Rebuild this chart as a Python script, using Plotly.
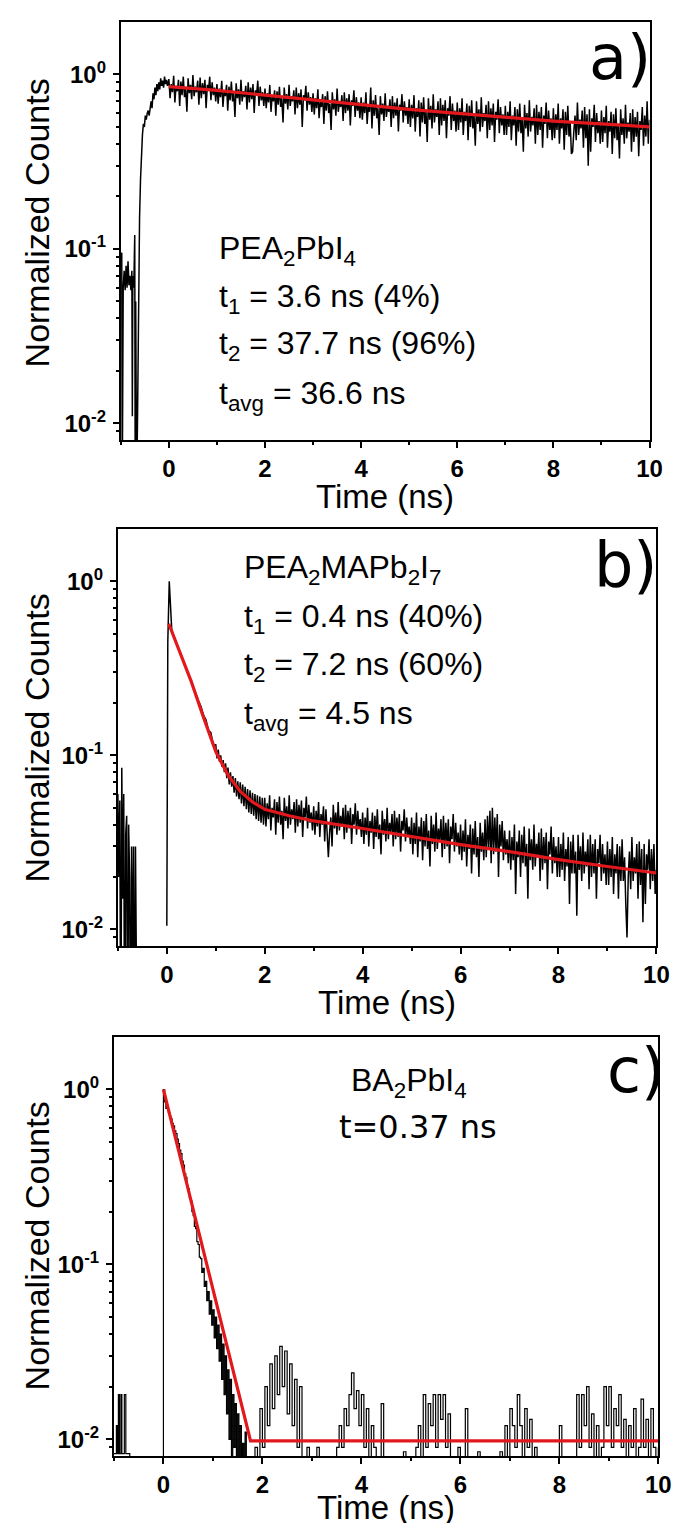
import plotly.graph_objects as go

W, H = 681, 1523

# ---------------- Panel a: PEA2PbI4 ----------------
a_rise_t = [-1.00, -0.98, -0.97, -0.95, -0.93, -0.91, -0.89, -0.87, -0.85, -0.83,
            -0.81, -0.79, -0.77, -0.76, -0.75, -0.73, -0.71, -0.70, -0.69, -0.67,
            -0.65, -0.63, -0.61, -0.59, -0.57, -0.55, -0.53, -0.51, -0.49, -0.47,
            -0.45, -0.43, -0.41, -0.39, -0.37, -0.35, -0.33, -0.31, -0.29, -0.27,
            -0.25, -0.23, -0.21, -0.19, -0.17, -0.15, -0.13, -0.11, -0.09, -0.07,
            -0.05, -0.03]
a_rise_counts = [0.09, 0.095, 0.004, 0.06, 0.075, 0.058, 0.08, 0.06, 0.085, 0.062,
                 0.07, 0.058, 0.075, 0.011, 0.07, 0.06, 0.12, 0.004, 0.05, 0.004,
                 0.012, 0.05, 0.15, 0.25, 0.38, 0.45, 0.52, 0.5, 0.58, 0.55,
                 0.6, 0.62, 0.58, 0.66, 0.7, 0.64, 0.78, 0.72, 0.84, 0.76,
                 0.88, 0.8, 0.9, 0.82, 0.95, 0.86, 0.92, 0.84, 0.97, 0.88,
                 0.93, 0.86]
a_decay_start = 0.0
a_decay_step = 0.025
a_decay_counts = [
    0.94, 0.73, 0.88, 0.79, 0.98, 0.69, 0.86, 0.80, 0.93, 0.66, 0.91, 0.76, 0.97, 0.74, 0.83, 0.61, 0.95, 0.78, 0.87, 0.72,
    0.99, 0.75, 0.85, 0.79, 0.92, 0.67, 0.96, 0.73, 0.89, 0.77, 0.93, 0.64, 0.87, 0.81, 0.97, 0.71, 0.90, 0.76, 0.84, 0.70,
    0.88, 0.68, 0.83, 0.74, 0.92, 0.65, 0.81, 0.75, 0.87, 0.62, 0.85, 0.71, 0.91, 0.70, 0.78, 0.57, 0.89, 0.73, 0.82, 0.67,
    0.93, 0.70, 0.80, 0.74, 0.86, 0.63, 0.90, 0.69, 0.84, 0.72, 0.88, 0.60, 0.81, 0.76, 0.92, 0.66, 0.85, 0.71, 0.79, 0.66,
    0.83, 0.64, 0.78, 0.69, 0.87, 0.61, 0.76, 0.70, 0.81, 0.58, 0.80, 0.67, 0.85, 0.65, 0.73, 0.53, 0.84, 0.68, 0.77, 0.63,
    0.87, 0.66, 0.75, 0.70, 0.81, 0.59, 0.84, 0.64, 0.78, 0.67, 0.82, 0.50, 0.76, 0.71, 0.86, 0.62, 0.79, 0.67, 0.74, 0.61,
    0.78, 0.59, 0.73, 0.64, 0.82, 0.56, 0.71, 0.65, 0.77, 0.52, 0.75, 0.62, 0.80, 0.60, 0.68, 0.48, 0.79, 0.63, 0.72, 0.58,
    0.83, 0.61, 0.70, 0.65, 0.76, 0.54, 0.79, 0.60, 0.73, 0.62, 0.77, 0.51, 0.71, 0.66, 0.81, 0.57, 0.74, 0.62, 0.69, 0.56,
    0.74, 0.55, 0.69, 0.60, 0.79, 0.52, 0.67, 0.61, 0.84, 0.49, 0.71, 0.58, 0.76, 0.56, 0.64, 0.45, 0.75, 0.59, 0.68, 0.54,
    0.78, 0.57, 0.66, 0.61, 0.72, 0.50, 0.75, 0.56, 0.69, 0.58, 0.73, 0.47, 0.67, 0.62, 0.77, 0.53, 0.70, 0.58, 0.65, 0.52,
    0.72, 0.50, 0.67, 0.56, 0.76, 0.47, 0.64, 0.57, 0.71, 0.44, 0.69, 0.53, 0.74, 0.52, 0.61, 0.41, 0.73, 0.55, 0.66, 0.49,
    0.77, 0.53, 0.63, 0.57, 0.70, 0.45, 0.73, 0.51, 0.67, 0.54, 0.71, 0.43, 0.64, 0.58, 0.75, 0.48, 0.68, 0.54, 0.62, 0.47,
    0.69, 0.48, 0.64, 0.53, 0.73, 0.45, 0.61, 0.54, 0.68, 0.42, 0.66, 0.50, 0.71, 0.49, 0.58, 0.39, 0.70, 0.52, 0.63, 0.47,
    0.74, 0.50, 0.60, 0.54, 0.67, 0.43, 0.70, 0.48, 0.64, 0.51, 0.68, 0.41, 0.61, 0.55, 0.72, 0.46, 0.65, 0.51, 0.59, 0.45,
    0.66, 0.45, 0.61, 0.50, 0.70, 0.42, 0.58, 0.51, 0.65, 0.39, 0.63, 0.47, 0.68, 0.46, 0.55, 0.36, 0.67, 0.49, 0.60, 0.44,
    0.71, 0.47, 0.57, 0.51, 0.64, 0.40, 0.67, 0.45, 0.61, 0.48, 0.65, 0.38, 0.58, 0.52, 0.69, 0.43, 0.62, 0.48, 0.56, 0.42,
    0.64, 0.43, 0.59, 0.48, 0.68, 0.40, 0.56, 0.49, 0.63, 0.37, 0.61, 0.45, 0.66, 0.44, 0.53, 0.35, 0.36, 0.47, 0.58, 0.42,
    0.69, 0.45, 0.55, 0.49, 0.62, 0.38, 0.65, 0.43, 0.59, 0.30, 0.63, 0.36, 0.56, 0.50, 0.67, 0.41, 0.60, 0.46, 0.54, 0.40,
    0.62, 0.41, 0.57, 0.46, 0.66, 0.38, 0.54, 0.47, 0.61, 0.35, 0.59, 0.43, 0.64, 0.42, 0.51, 0.33, 0.63, 0.45, 0.56, 0.40,
    0.67, 0.43, 0.53, 0.47, 0.60, 0.36, 0.63, 0.41, 0.57, 0.44, 0.61, 0.34, 0.54, 0.48, 0.65, 0.39, 0.58, 0.44, 0.70, 0.40,
    0.55]
a_fit_t = [0, 1, 2, 3, 4, 5, 6, 7, 8, 9, 10]
a_fit_counts = [0.85, 0.81, 0.76, 0.71, 0.67, 0.63, 0.60, 0.57, 0.54, 0.52, 0.50]

# ---------------- Panel b: PEA2MAPb2I7 ----------------
b_pre_t = [-1.00, -0.98, -0.96, -0.94, -0.92, -0.90, -0.88, -0.86, -0.84, -0.82,
           -0.80, -0.78, -0.76, -0.74, -0.72, -0.70, -0.68, -0.66, -0.64, -0.62, -0.60]
b_pre_counts = [0.06, 0.02, 0.055, 0.001, 0.085, 0.015, 0.06, 0.001, 0.035, 0.045,
                0.001, 0.04, 0.02, 0.001, 0.03, 0.005, 0.03, 0.001, 0.03, 0.001, 0.001]
b_peak_t = [0.0, 0.02, 0.05, 0.08]
b_peak_counts = [0.0105, 0.45, 1.0, 0.6]
b_early_start = 0.10
b_early_step = 0.05
b_early_counts = [0.53, 0.48, 0.44, 0.41, 0.37, 0.345, 0.31, 0.29, 0.265, 0.245,
                  0.22, 0.205, 0.19, 0.17, 0.16, 0.14, 0.135, 0.115]
b_late_start = 1.0
b_late_step = 0.025
b_late_counts = [
    0.115, 0.096, 0.108, 0.092, 0.100, 0.086, 0.094, 0.080, 0.090, 0.074, 0.085, 0.068, 0.080, 0.066, 0.076, 0.061, 0.074, 0.058, 0.071, 0.056,
    0.070, 0.053, 0.068, 0.051, 0.066, 0.049, 0.064, 0.047, 0.063, 0.046, 0.061, 0.045, 0.060, 0.043, 0.059, 0.042, 0.058, 0.041, 0.057, 0.040,
    0.057, 0.039, 0.053, 0.043, 0.059, 0.037, 0.050, 0.044, 0.056, 0.035, 0.054, 0.041, 0.058, 0.040, 0.048, 0.033, 0.057, 0.042, 0.051, 0.038,
    0.059, 0.040, 0.049, 0.043, 0.054, 0.036, 0.056, 0.039, 0.052, 0.041, 0.055, 0.034, 0.050, 0.044, 0.058, 0.038, 0.052, 0.041, 0.047, 0.037,
    0.051, 0.035, 0.048, 0.039, 0.054, 0.034, 0.046, 0.040, 0.051, 0.032, 0.049, 0.037, 0.026, 0.036, 0.044, 0.030, 0.052, 0.038, 0.047, 0.035,
    0.054, 0.037, 0.045, 0.039, 0.050, 0.033, 0.052, 0.036, 0.048, 0.038, 0.050, 0.031, 0.046, 0.040, 0.053, 0.035, 0.048, 0.038, 0.043, 0.034,
    0.047, 0.031, 0.044, 0.035, 0.050, 0.030, 0.042, 0.036, 0.047, 0.029, 0.045, 0.034, 0.049, 0.033, 0.040, 0.027, 0.048, 0.035, 0.043, 0.032,
    0.050, 0.033, 0.041, 0.036, 0.046, 0.030, 0.048, 0.033, 0.044, 0.034, 0.046, 0.028, 0.042, 0.037, 0.049, 0.032, 0.044, 0.034, 0.039, 0.031,
    0.044, 0.027, 0.041, 0.031, 0.047, 0.026, 0.039, 0.032, 0.044, 0.025, 0.042, 0.030, 0.046, 0.029, 0.037, 0.023, 0.045, 0.031, 0.040, 0.028,
    0.047, 0.029, 0.038, 0.032, 0.043, 0.026, 0.045, 0.029, 0.041, 0.030, 0.043, 0.024, 0.039, 0.033, 0.046, 0.028, 0.041, 0.030, 0.036, 0.027,
    0.040, 0.025, 0.037, 0.028, 0.043, 0.023, 0.035, 0.029, 0.040, 0.021, 0.038, 0.027, 0.042, 0.026, 0.034, 0.020, 0.041, 0.028, 0.036, 0.025,
    0.043, 0.026, 0.045, 0.029, 0.048, 0.024, 0.050, 0.027, 0.044, 0.028, 0.046, 0.020, 0.040, 0.030, 0.042, 0.025, 0.037, 0.027, 0.033, 0.024,
    0.037, 0.022, 0.034, 0.025, 0.040, 0.016, 0.032, 0.026, 0.037, 0.020, 0.035, 0.024, 0.039, 0.023, 0.031, 0.015, 0.038, 0.025, 0.033, 0.022,
    0.040, 0.023, 0.031, 0.026, 0.036, 0.019, 0.038, 0.022, 0.034, 0.024, 0.036, 0.017, 0.032, 0.027, 0.039, 0.021, 0.034, 0.024, 0.030, 0.020,
    0.034, 0.020, 0.031, 0.022, 0.036, 0.019, 0.029, 0.023, 0.034, 0.014, 0.032, 0.021, 0.035, 0.021, 0.028, 0.012, 0.035, 0.022, 0.030, 0.019,
    0.036, 0.021, 0.028, 0.023, 0.033, 0.017, 0.035, 0.020, 0.031, 0.021, 0.033, 0.015, 0.029, 0.024, 0.035, 0.019, 0.031, 0.021, 0.027, 0.018,
    0.032, 0.018, 0.029, 0.020, 0.034, 0.016, 0.027, 0.021, 0.031, 0.015, 0.030, 0.019, 0.033, 0.019, 0.026, 0.014, 0.009, 0.020, 0.028, 0.017,
    0.034, 0.019, 0.026, 0.021, 0.031, 0.015, 0.032, 0.018, 0.029, 0.011, 0.031, 0.014, 0.027, 0.022, 0.033, 0.017, 0.029, 0.019, 0.031, 0.016,
    0.022]
b_fit_t = [0.04, 0.25, 0.5, 0.75, 1.0, 1.25, 1.5, 1.75, 2.0, 2.5, 3, 4, 5, 6, 7, 8, 9, 10]
b_fit_counts = [0.57, 0.40, 0.265, 0.165, 0.105, 0.077, 0.062, 0.054, 0.049, 0.045, 0.042,
                0.038, 0.034, 0.0307, 0.028, 0.0252, 0.023, 0.0211]

# ---------------- Panel c: BA2PbI4 ----------------
c_pre_t = [-1.0, -0.97, -0.95, -0.93, -0.91, -0.89, -0.86, -0.84, -0.82, -0.79,
           -0.76, -0.74, -0.72, -0.70, -0.68]
c_pre_counts = [0.0083, 0.0083, 0.012, 0.0083, 0.018, 0.0083, 0.018, 0.0083, 0.0083, 0.018,
                0.0083, 0.0083, 0.0083, 0.0083, 0.001]
c_rise_t = [-0.05]
c_rise_counts = [0.001]
c_decay_start = 0.0
c_decay_step = 0.025
c_decay_counts = [
    1.0, 0.85, 0.78, 0.8, 0.74, 0.7, 0.68, 0.64, 0.62, 0.58, 0.56, 0.52, 0.49, 0.45, 0.43, 0.39,
    0.37, 0.33, 0.315, 0.28, 0.27, 0.24, 0.23, 0.2, 0.19, 0.165, 0.16, 0.135, 0.13, 0.11, 0.108, 0.09,
    0.095, 0.075, 0.08, 0.062, 0.07, 0.052, 0.062, 0.045, 0.055, 0.038, 0.05, 0.033, 0.045, 0.028, 0.04, 0.022,
    0.035, 0.018, 0.03, 0.014, 0.025, 0.01, 0.022, 0.001, 0.018, 0.009, 0.016, 0.001, 0.014, 0.001, 0.012, 0.001,
    0.0095, 0.001, 0.011, 0.001, 0.001]
c_tail_start = 1.75
c_tail_step = 0.05
c_tail_counts = [
    0.001, 0.001, 0.009, 0.001, 0.015, 0.009, 0.02, 0.012, 0.027, 0.015, 0.03, 0.018, 0.034, 0.02, 0.032, 0.014, 0.027, 0.012, 0.022, 0.009,
    0.02, 0.001, 0.001, 0.009, 0.001, 0.001, 0.001, 0.009, 0.001, 0.001, 0.001, 0.001, 0.001, 0.001, 0.001, 0.009, 0.012, 0.009, 0.015, 0.012,
    0.018, 0.024, 0.015, 0.019, 0.012, 0.018, 0.009, 0.015, 0.001, 0.012, 0.009, 0.001, 0.001, 0.016, 0.001, 0.001, 0.001, 0.001, 0.001, 0.001,
    0.001, 0.001, 0.0085, 0.001, 0.001, 0.001, 0.001, 0.009, 0.012, 0.001, 0.018, 0.009, 0.016, 0.012, 0.018, 0.009, 0.018, 0.013, 0.018, 0.009,
    0.014, 0.001, 0.001, 0.001, 0.009, 0.001, 0.001, 0.015, 0.001, 0.001, 0.001, 0.001, 0.0085, 0.001, 0.001, 0.001, 0.001, 0.001, 0.001, 0.001,
    0.001, 0.0085, 0.001, 0.012, 0.001, 0.015, 0.012, 0.009, 0.018, 0.012, 0.001, 0.015, 0.009, 0.013, 0.001, 0.009, 0.001, 0.001, 0.001, 0.001,
    0.001, 0.001, 0.001, 0.001, 0.001, 0.012, 0.001, 0.001, 0.001, 0.001, 0.001, 0.001, 0.018, 0.009, 0.018, 0.012, 0.02, 0.009, 0.014, 0.001,
    0.012, 0.001, 0.009, 0.02, 0.012, 0.02, 0.009, 0.015, 0.012, 0.018, 0.009, 0.013, 0.001, 0.012, 0.009, 0.015, 0.001, 0.009, 0.017, 0.009,
    0.013, 0.001, 0.015, 0.009, 0.001, 0.009]
c_fit_t = [0.0, 1.76, 10.0]
c_fit_counts = [1.0, 0.0098, 0.0098]

# ---------------- text ----------------
x_ticks = [0, 2, 4, 6, 8, 10]
x_minor = [-1, 1, 3, 5, 7, 9]
y_ticks = [0.01, 0.1, 1]
y_ticktext = ["10<sup>-2</sup>", "10<sup>-1</sup>", "10<sup>0</sup>"]
y_minor = [0.008, 0.009, 0.02, 0.03, 0.04, 0.05, 0.06, 0.07, 0.08, 0.09,
           0.2, 0.3, 0.4, 0.5, 0.6, 0.7, 0.8, 0.9, 2]
x_title = "Time (ns)"
y_title = "Normalized Counts"
a_lines = ["PEA<sub>2</sub>PbI<sub>4</sub>", "t<sub>1</sub> = 3.6 ns (4%)",
           "t<sub>2</sub> = 37.7 ns (96%)", "t<sub>avg</sub> = 36.6 ns"]
b_lines = ["PEA<sub>2</sub>MAPb<sub>2</sub>I<sub>7</sub>", "t<sub>1</sub> = 0.4 ns (40%)",
           "t<sub>2</sub> = 7.2 ns (60%)", "t<sub>avg</sub> = 4.5 ns"]
c_name = "BA<sub>2</sub>PbI<sub>4</sub>"
c_tau = "t=0.37 ns"
panel_labels = ["a)", "b)", "c)"]


def seq(start, step, n):
    return [round(start + step * i, 4) for i in range(n)]


BLACK = "#000000"
RED = "rgb(226,24,28)"
FONT = "Liberation Sans, Arial, sans-serif"

# panel pixel boxes: (left, right, top, bottom)
boxes = [(115, 654, 14, 432), (112, 661, 521, 938), (108, 663, 1029, 1448)]
x_title_y = [488, 994, 1499]
y_title_y = [215, 730, 1238]


def px(x):
    return x / W


def py(y):
    return 1 - y / H


fig = go.Figure()

a_x = a_rise_t + seq(a_decay_start, a_decay_step, len(a_decay_counts))
a_y = a_rise_counts + a_decay_counts
b_x = (b_pre_t + [None] + b_peak_t + seq(b_early_start, b_early_step, len(b_early_counts))
       + seq(b_late_start, b_late_step, len(b_late_counts)))
b_y = b_pre_counts + [None] + b_peak_counts + b_early_counts + b_late_counts
c_x = (c_pre_t + [None] + c_rise_t + seq(c_decay_start, c_decay_step, len(c_decay_counts))
       + seq(c_tail_start, c_tail_step, len(c_tail_counts)))
c_y = c_pre_counts + [None] + c_rise_counts + c_decay_counts + c_tail_counts

panels = [
    (a_x, a_y, a_fit_t, a_fit_counts, "linear", 1.5),
    (b_x, b_y, b_fit_t, b_fit_counts, "linear", 1.5),
    (c_x, c_y, c_fit_t, c_fit_counts, "hv", 1.2),
]

for i, (dx, dy, fx, fy, shp, lw) in enumerate(panels):
    sfx = "" if i == 0 else str(i + 1)
    fig.add_trace(go.Scatter(x=dx, y=dy, mode="lines", line=dict(color=BLACK, width=lw, shape=shp),
                             xaxis="x" + sfx, yaxis="y" + sfx, showlegend=False,
                             connectgaps=False))
    fig.add_trace(go.Scatter(x=fx, y=fy, mode="lines", line=dict(color=RED, width=3.2),
                             xaxis="x" + sfx, yaxis="y" + sfx, showlegend=False))

layout = dict(
    width=W, height=H,
    margin=dict(l=0, r=0, t=0, b=0),
    paper_bgcolor="white", plot_bgcolor="white",
    showlegend=False,
)

for i, (l, r, t, b) in enumerate(boxes):
    sfx = "" if i == 0 else str(i + 1)
    layout["xaxis" + sfx] = dict(
        domain=[px(l), px(r)], range=[-1, 10], anchor="y" + sfx,
        tickmode="array", tickvals=x_ticks, ticktext=[str(v) for v in x_ticks],
        ticks="outside", ticklen=6, tickwidth=2, tickcolor="black",
        minor=dict(tickmode="array", tickvals=x_minor, ticks="outside", ticklen=3,
                   tickwidth=2, tickcolor="black"),
        showline=True, linewidth=2, linecolor="black", mirror=True,
        showgrid=False, zeroline=False,
        tickfont=dict(family=FONT, size=24, color="black", weight="bold"),
    )
    layout["yaxis" + sfx] = dict(
        domain=[py(b), py(t)], type="log", range=[-2.095, 0.30], anchor="x" + sfx,
        tickmode="array", tickvals=y_ticks, ticktext=y_ticktext,
        ticks="outside", ticklen=6, tickwidth=2, tickcolor="black",
        ticklabelstandoff=2,
        minor=dict(tickmode="array", tickvals=y_minor, ticks="outside", ticklen=3,
                   tickwidth=1.5, tickcolor="black"),
        showline=True, linewidth=2, linecolor="black", mirror=True,
        showgrid=False, zeroline=False,
        tickfont=dict(family=FONT, size=24, color="black", weight="bold"),
    )

fig.update_layout(**layout)

ann = []
TXT = dict(family=FONT, size=32, color="black")
# axis titles
for (l, r, t, b), ty, yy in zip(boxes, x_title_y, y_title_y):
    ann.append(dict(text=x_title, x=px((l + r) / 2), y=py(ty), xref="paper", yref="paper",
                    xanchor="center", yanchor="middle", showarrow=False,
                    font=dict(family=FONT, size=33, color="black")))
    ann.append(dict(text=y_title, x=px(30), y=py(yy), xref="paper", yref="paper",
                    xanchor="center", yanchor="middle", showarrow=False, textangle=-90,
                    font=dict(family=FONT, size=34, color="black")))
for txt, yy in zip(a_lines, [243, 290, 338, 387]):
    ann.append(dict(text=txt, x=px(213), y=py(yy), xref="paper", yref="paper",
                    xanchor="left", yanchor="middle", showarrow=False, font=TXT))
for txt, yy in zip(b_lines, [562, 610, 658, 707]):
    ann.append(dict(text=txt, x=px(239), y=py(yy), xref="paper", yref="paper",
                    xanchor="left", yanchor="middle", showarrow=False, font=TXT))
ann.append(dict(text=c_name, x=px(409), y=py(1074), xref="paper", yref="paper",
                xanchor="center", yanchor="middle", showarrow=False, font=TXT))
ann.append(dict(text=c_tau, x=px(418), y=py(1119), xref="paper", yref="paper",
                xanchor="center", yanchor="middle", showarrow=False,
                font=dict(family="DejaVu Sans", size=32, color="black")))
for lab, (xr, yc) in zip(panel_labels, [(658, 50), (665, 556), (672, 1062)]):
    ann.append(dict(text=lab, x=px(xr), y=py(yc), xref="paper", yref="paper",
                    xanchor="right", yanchor="middle", showarrow=False,
                    font=dict(family="DejaVu Sans", size=62, color="black")))
fig.update_layout(annotations=ann)

fig.write_html("out.html")
